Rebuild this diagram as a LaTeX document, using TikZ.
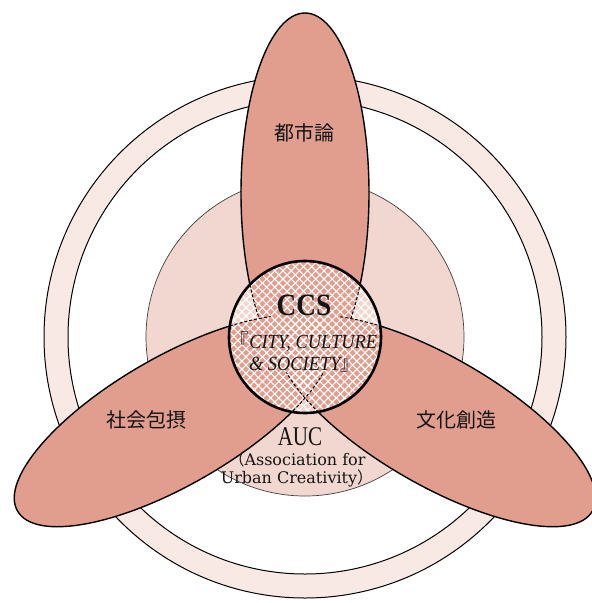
\documentclass[tikz,border=0pt]{standalone}
\usepackage{fontspec}
\setmainfont{Liberation Serif}
\newfontfamily\cjk{Noto Sans CJK JP}
\newfontfamily\dvs{DejaVu Serif}
\usetikzlibrary{patterns.meta}
\definecolor{ringcol}{HTML}{F8E9E5}
\definecolor{diskcol}{HTML}{F2D7D0}
\definecolor{petalcol}{HTML}{E19E8E}
\definecolor{inkcol}{HTML}{141414}
\begin{document}
\begin{tikzpicture}[x=1pt,y=-1pt,
  petalL/.style={rotate around={30:(173.4,421)}},
  petalR/.style={rotate around={-30:(436.6,421)}},
  outline/.style={draw=black,line width=1.4pt},
  dashline/.style={draw=black,line width=1pt,dash pattern=on 3pt off 2pt},
  jplabel/.style={font=\cjk\fontsize{20}{24}\selectfont,text=inkcol},
  hatch/.style={pattern={Lines[angle=#1,distance=5.8pt,line width=1.1pt]},pattern color=white}
]
\useasboundingbox (0,0) rectangle (592,603);
\fill[white] (0,0) rectangle (592,603);
\coordinate (C) at (305,337);
% outer ring
\fill[ringcol,draw=black,line width=1pt] (C) circle (261);
\fill[white,draw=black,line width=1pt] (C) circle (237);
% middle disk
\fill[diskcol,draw=black!75,line width=0.7pt] (C) circle (159);
% petals
\path[fill=petalcol,outline] (305,193) ellipse [x radius=64,y radius=180];
\path[fill=petalcol,outline,petalL] (173.4,421) ellipse [x radius=180,y radius=64];
\path[fill=petalcol,outline,petalR] (436.6,421) ellipse [x radius=180,y radius=64];
% centre circle
\begin{scope}
  \clip (C) circle (76);
  \fill[diskcol] (C) circle (80);
  \fill[petalcol] (305,193) ellipse [x radius=64,y radius=180];
  \fill[hatch=45] (C) circle (80);
  \fill[hatch=-45] (C) circle (80);
  \path[dashline] (305,193) ellipse [x radius=64,y radius=180];
  \fill[petalcol,petalL] (173.4,421) ellipse [x radius=180,y radius=64];
  \fill[petalcol,petalR] (436.6,421) ellipse [x radius=180,y radius=64];
  \begin{scope}
    \clip[rotate around={30:(173.4,421)}] (173.4,421) ellipse [x radius=180,y radius=64];
    \fill[hatch=45] (C) circle (80);
    \fill[hatch=-45] (C) circle (80);
  \end{scope}
  \begin{scope}
    \clip[rotate around={-30:(436.6,421)}] (436.6,421) ellipse [x radius=180,y radius=64];
    \fill[hatch=45] (C) circle (80);
    \fill[hatch=-45] (C) circle (80);
  \end{scope}
  \begin{scope}
    \clip (381,337) arc[start angle=0,end angle=360,radius=76] -- (345,337) arc[start angle=360,end angle=0,radius=40] -- cycle;
    \path[dashline,petalL] (173.4,421) ellipse [x radius=180,y radius=64];
    \path[dashline,petalR] (436.6,421) ellipse [x radius=180,y radius=64];
  \end{scope}
\end{scope}
\draw[black,line width=2.6pt] (C) circle (76);
% labels
\node[jplabel] (toshi) at (304,133) {都市論};
\node[jplabel] (shakai) at (146,420) {社会包摂};
\node[jplabel] (bunka) at (456,420) {文化創造};
\node[anchor=base,font=\bfseries\fontsize{31}{34}\selectfont,text=inkcol,inner sep=0pt] (ccs) at (304,315) {\scalebox{0.88}[1]{CCS}};
\node[align=center,font=\itshape\fontsize{20}{22.5}\selectfont,text=inkcol,inner sep=0pt] (city) at (304,352)
  {\scalebox{0.92}[1]{{\upshape\cjk 『}CITY, CULTURE}\\\scalebox{0.92}[1]{\&\ SOCIETY{\upshape\cjk 』}}};
\node[anchor=base,font=\fontsize{27}{30}\selectfont,text=inkcol,inner sep=0pt] (auc) at (300,445) {\scalebox{0.78}[1]{AUC}};
\node[anchor=base,font=\dvs\fontsize{16}{18}\selectfont,text=inkcol,inner sep=0pt] (assoc) at (297,465) {{\cjk （}Association for};
\node[anchor=base,font=\dvs\fontsize{16}{18}\selectfont,text=inkcol,inner sep=0pt] (urban) at (297,483) {Urban Creativity{\cjk ）}};
\end{tikzpicture}
\end{document}
